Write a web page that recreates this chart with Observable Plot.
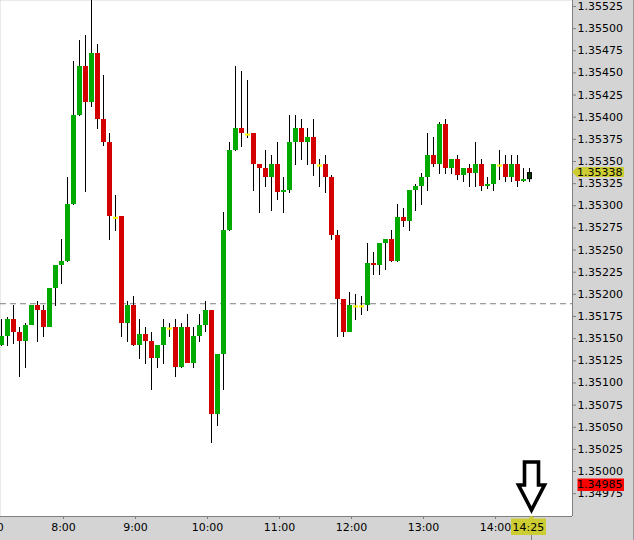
<!DOCTYPE html>
<html><head><meta charset="utf-8">
<script src="https://cdn.jsdelivr.net/npm/d3@7"></script>
<script src="https://cdn.jsdelivr.net/npm/@observablehq/plot@0.6"></script>
<style>
html,body{margin:0;padding:0;background:#d4d4d4;overflow:hidden;}
#chart svg{display:block;}
</style></head><body><div id="chart"></div>
<script>
// 5-minute candles, 7:10 .. 14:30
const times = ["7:10","7:15","7:20","7:25","7:30","7:35","7:40","7:45","7:50","7:55",
"8:00","8:05","8:10","8:15","8:20","8:25","8:30","8:35","8:40","8:45","8:50","8:55",
"9:00","9:05","9:10","9:15","9:20","9:25","9:30","9:35","9:40","9:45","9:50","9:55",
"10:00","10:05","10:10","10:15","10:20","10:25","10:30","10:35","10:40","10:45","10:50","10:55",
"11:00","11:05","11:10","11:15","11:20","11:25","11:30","11:35","11:40","11:45","11:50","11:55",
"12:00","12:05","12:10","12:15","12:20","12:25","12:30","12:35","12:40","12:45","12:50","12:55",
"13:00","13:05","13:10","13:15","13:20","13:25","13:30","13:35","13:40","13:45","13:50","13:55",
"14:00","14:05","14:10","14:15","14:20","14:25","14:30"];
const open = [1.35143,1.35153,1.35172,1.35157,1.35147,1.35165,1.35188,1.35182,1.35163,1.35207,
1.35233,1.35238,1.35302,1.35402,1.35458,1.35417,1.35472,1.35398,1.35372,1.35287,
1.35288,1.35168,1.35188,1.35143,1.35155,1.35147,1.35128,1.35143,1.35162,1.35163,
1.35118,1.35163,1.35123,1.35153,1.35165,1.35182,1.35065,1.35133,1.35273,1.35363,
1.35388,1.35381,1.35382,1.35347,1.35343,1.35332,1.35347,1.35316,1.35318,1.35372,
1.35388,1.35372,1.35378,1.35346,1.35347,1.35332,1.35267,1.35195,1.35157,1.35187,
1.35187,1.35188,1.35235,1.35233,1.35258,1.35263,1.35238,1.35287,1.35283,1.35318,
1.35322,1.35332,1.35357,1.35347,1.35392,1.35343,1.35353,1.35335,1.35343,1.35337,
1.35347,1.35322,1.35325,1.35346,1.35347,1.35332,1.35347,1.35328,1.35330];
const high = [1.35172,1.35175,1.35188,1.35163,1.35168,1.35188,1.35192,1.35188,1.35207,1.35233,
1.35263,1.35333,1.35463,1.35487,1.35493,1.35535,1.35483,1.35448,1.35382,1.35312,
1.35288,1.35192,1.35198,1.35172,1.35163,1.35157,1.35143,1.35172,1.35168,1.35172,
1.35168,1.35178,1.35163,1.35178,1.35192,1.35182,1.35133,1.35293,1.35372,1.35458,
1.35452,1.35442,1.35382,1.35347,1.35363,1.35357,1.35372,1.35332,1.35402,1.35402,
1.35398,1.35388,1.35398,1.35353,1.35357,1.35335,1.35273,1.35195,1.35203,1.35200,
1.35198,1.35258,1.35248,1.35258,1.35263,1.35273,1.35302,1.35298,1.35318,1.35325,
1.35337,1.35382,1.35378,1.35395,1.35398,1.35353,1.35357,1.35343,1.35347,1.35372,
1.35353,1.35332,1.35347,1.35363,1.35357,1.35357,1.35357,1.35343,1.35343];
const low = [1.35142,1.35142,1.35144,1.35107,1.35117,1.35165,1.35146,1.35152,1.35163,1.35187,
1.35212,1.35236,1.35301,1.35401,1.35315,1.35412,1.35387,1.35367,1.35261,1.35271,
1.35152,1.35146,1.35142,1.35127,1.35121,1.35092,1.35117,1.35121,1.35152,1.35107,
1.35117,1.35122,1.35117,1.35146,1.35157,1.35032,1.35051,1.35092,1.35271,1.35362,
1.35366,1.35376,1.35317,1.35292,1.35321,1.35294,1.35306,1.35292,1.35314,1.35346,
1.35352,1.35346,1.35334,1.35321,1.35314,1.35261,1.35152,1.35152,1.35157,1.35171,
1.35177,1.35181,1.35222,1.35222,1.35227,1.35236,1.35236,1.35276,1.35271,1.35294,
1.35301,1.35317,1.35344,1.35336,1.35336,1.35336,1.35329,1.35327,1.35321,1.35321,
1.35317,1.35319,1.35317,1.35329,1.35327,1.35327,1.35321,1.35327,1.35327];
const close = [1.35153,1.35172,1.35157,1.35147,1.35165,1.35188,1.35182,1.35163,1.35207,1.35233,
1.35238,1.35302,1.35402,1.35458,1.35417,1.35472,1.35398,1.35372,1.35288,1.35287,
1.35168,1.35188,1.35143,1.35155,1.35147,1.35128,1.35143,1.35163,1.35162,1.35118,
1.35163,1.35123,1.35153,1.35165,1.35182,1.35065,1.35133,1.35273,1.35363,1.35388,
1.35382,1.35381,1.35347,1.35343,1.35332,1.35347,1.35316,1.35318,1.35372,1.35388,
1.35372,1.35378,1.35347,1.35346,1.35332,1.35267,1.35195,1.35157,1.35188,1.35187,
1.35187,1.35235,1.35233,1.35258,1.35263,1.35238,1.35287,1.35283,1.35318,1.35322,
1.35332,1.35357,1.35347,1.35392,1.35343,1.35353,1.35335,1.35343,1.35337,1.35347,
1.35322,1.35325,1.35347,1.35346,1.35332,1.35347,1.35328,1.35330,1.35338];

const priceTicks = [1.34975,1.35000,1.35025,1.35050,1.35075,1.35100,1.35125,1.35150,1.35175,1.35200,
1.35225,1.35250,1.35275,1.35300,1.35325,1.35350,1.35375,1.35400,1.35425,1.35450,1.35475,1.35500,1.35525];
const timeTickLabels = ["7:00","8:00","9:00","10:00","11:00","12:00","13:00","14:00"];
const lastPrice = 1.35338, lastPriceLabel = "1.35338";
const alertPrice = 1.34985, alertPriceLabel = "1.34985";
const refLevel = 1.35190;
const cursorTimeLabel = "14:25";
const priceRange = [1.349498, 1.355323];

const toMin = s => { const [h, m] = s.split(":").map(Number); return h * 60 + m; };
const data = times.map((s, i) => ({t: toMin(s), o: open[i], h: high[i], l: low[i], c: close[i], last: i === times.length - 1}));
const tickMinutes = timeTickLabels.map(toMin);
const labelOf = new Map(timeTickLabels.map(s => [toMin(s), s]));

const W = 634, H = 540, mR = 62, mB = 24;
const pxPerMin = 6 / 5;             // 6px per 5-minute candle
const t0 = data[0].t;
const xStart = t0 - 1.5 / pxPerMin;
const xDomain = [xStart, xStart + (W - mR) / pxPerMin];
const hb = 2.5 / pxPerMin;          // half body width
const hw = 0.5 / pxPerMin;
const lastT = data[data.length - 1].t;

const up = data.filter(d => !d.last && d.c > d.o);
const down = data.filter(d => !d.last && d.c < d.o);
const doji = data.filter(d => !d.last && d.c === d.o);
const cur = data.filter(d => d.last);

function overlay(index, scales, values, dimensions) {
  const {x, y} = scales;
  const {width, height, marginRight, marginBottom} = dimensions;
  const right = width - marginRight, bottom = height - marginBottom;
  const g = d3.create("svg:g").attr("font-family", "DejaVu Sans").attr("font-size", 11).attr("text-anchor", "start");
  // current price tag
  const yp = y(lastPrice);
  g.append("path").attr("fill", "#cccc33")
    .attr("d", `M${right},${yp} L${right + 5},${yp - 5} H${right + 52} V${yp + 5} H${right + 5} Z`);
  g.append("text").attr("x", right + 5).attr("y", yp).attr("dy", "0.32em").attr("text-anchor", "start").attr("fill", "black").text(lastPriceLabel);
  // alert price tag
  const ya = y(alertPrice);
  g.append("rect").attr("x", right + 5.5).attr("y", ya - 6.3).attr("width", 46.5).attr("height", 12.5).attr("fill", "#ff0000");
  g.append("text").attr("x", right + 5).attr("y", ya).attr("dy", "0.32em").attr("text-anchor", "start").attr("fill", "black").text(alertPriceLabel);
  // time cursor tag
  const xt = x(lastT) + 2;
  g.append("line").attr("x1", xt).attr("x2", xt).attr("y1", bottom).attr("y2", height).attr("stroke", "#808080");
  g.append("path").attr("fill", "#cccc33")
    .attr("d", `M${xt - 20.5},${bottom + 2.5} H${xt - 3} L${xt},${bottom - 0.5} L${xt + 3},${bottom + 2.5} H${xt + 14.5} V${bottom + 19} H${xt - 20.5} Z`);
  g.append("text").attr("x", xt - 3.2).attr("y", bottom + 15).attr("text-anchor", "middle").attr("fill", "black").text(cursorTimeLabel);
  // arrow
  const tipY = bottom - 6;
  const pts = [[-7, -48], [7, -48], [7, -25], [13, -25], [0, 0], [-13, -25], [-7, -25]];
  g.append("path").attr("fill", "white").attr("stroke", "black").attr("stroke-width", 3.6).attr("stroke-linejoin", "miter")
    .attr("d", "M" + pts.map(([dx, dy]) => `${xt + dx},${tipY + dy}`).join("L") + "Z");
  // outer right edge line
  g.append("line").attr("x1", width - 0.5).attr("x2", width - 0.5).attr("y1", 0).attr("y2", height).attr("stroke", "#9a9a9a");
  return g.node();
}

const chart = Plot.plot({
  width: W, height: H,
  marginLeft: 0, marginTop: 0, marginRight: mR, marginBottom: mB,
  style: {background: "#d4d4d4", fontFamily: "DejaVu Sans", fontSize: "11px", color: "black"},
  x: {type: "linear", domain: xDomain, axis: null, label: null},
  y: {type: "linear", domain: priceRange, axis: null, label: null},
  marks: [
    Plot.frame({fill: "white", stroke: "none"}),
    Plot.ruleY([refLevel], {stroke: "#808080", strokeDasharray: "6,4"}),
    Plot.rect(data, {x1: d => d.t - hw, x2: d => d.t + hw, y1: "l", y2: "h", fill: "black", shapeRendering: "crispEdges"}),
    Plot.rect(up, {x1: d => d.t - hb, x2: d => d.t + hb, y1: "o", y2: "c", fill: "#00aa00", shapeRendering: "crispEdges"}),
    Plot.rect(down, {x1: d => d.t - hb, x2: d => d.t + hb, y1: "o", y2: "c", fill: "#d40000", shapeRendering: "crispEdges"}),
    Plot.rect(cur, {x1: d => d.t - hb, x2: d => d.t + hb, y1: "o", y2: "c", fill: "#003c00", stroke: "black", inset: 0.5}),
    Plot.ruleY(doji, {y: "c", x1: d => d.t - hb, x2: d => d.t + hb, stroke: "#ffff00", strokeWidth: 2}),
    Plot.ruleX([xDomain[1]], {stroke: "#808080"}),
    Plot.ruleY([priceRange[0]], {stroke: "#808080"}),
    Plot.axisY({anchor: "right", ticks: priceTicks, tickFormat: d => d.toFixed(5), tickSize: 3, tickPadding: 2, dy: -0.5, stroke: "#808080", label: null}),
    Plot.axisX({anchor: "bottom", ticks: tickMinutes, tickFormat: d => labelOf.get(d), tickSize: 3, tickPadding: 4, dx: 1.5, stroke: "#808080", label: null}),
    overlay
  ]
});
document.getElementById("chart").appendChild(chart);
</script>
</body></html>
